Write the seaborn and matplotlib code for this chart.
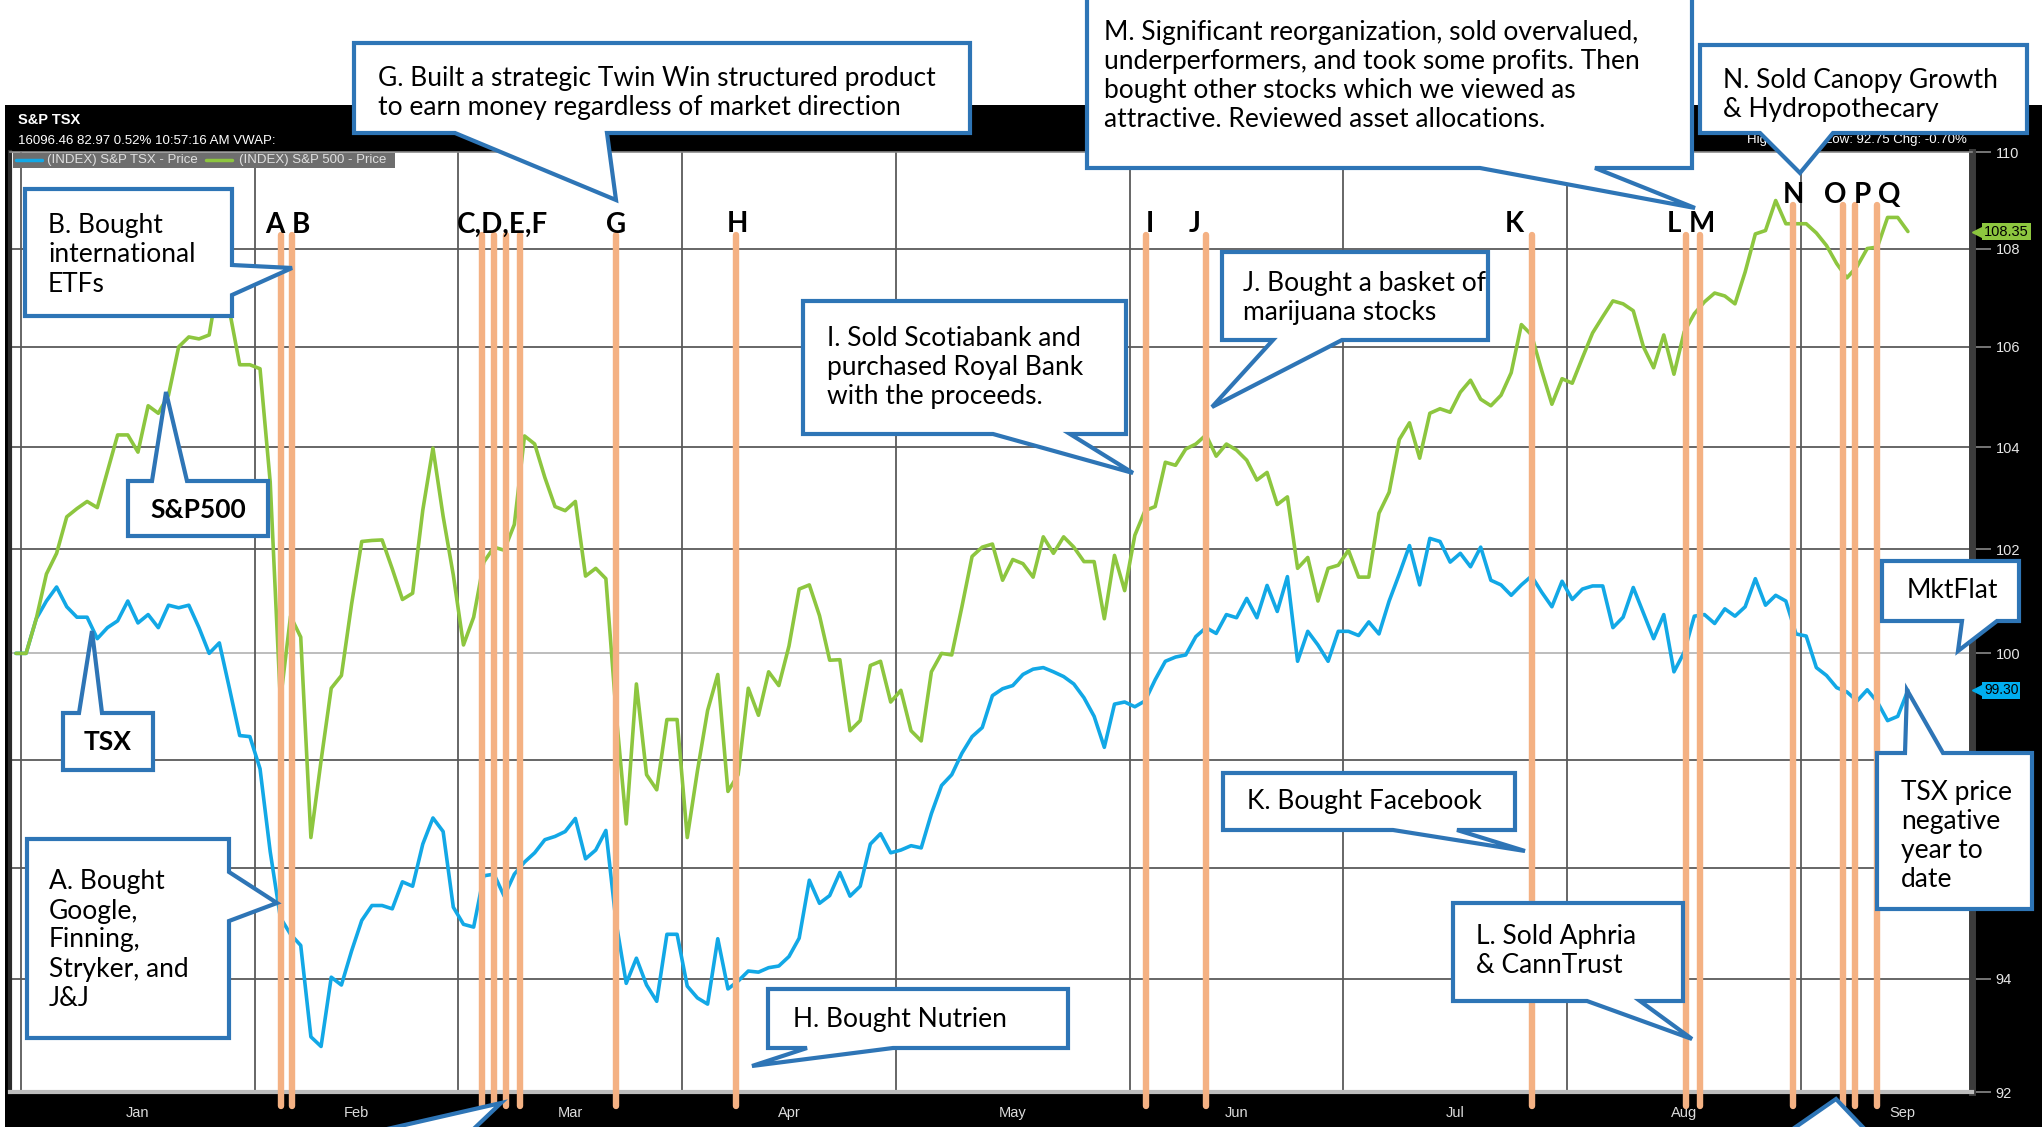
import numpy as np
import pandas as pd
import matplotlib
matplotlib.use('Agg')
import matplotlib.pyplot as plt
import matplotlib.transforms as mtransforms
from matplotlib.patches import Polygon, Rectangle
from matplotlib.ticker import FixedLocator, FixedFormatter, NullLocator
import seaborn as sns

# Normalised prices (Dec 29 2017 = 100), one value per weekday from Dec 29 2017
sp500 = [100.00, 100.00, 100.66, 101.52, 101.92, 102.63, 102.79, 102.93, 102.81, 103.52,
         104.24, 104.24, 103.90, 104.82, 104.67, 105.03, 106.00, 106.20, 106.16, 106.24,
         107.45, 106.73, 105.64, 105.64, 105.56, 103.31, 99.10, 100.71, 100.31, 96.56,
         97.98, 99.34, 99.58, 100.94, 102.15, 102.17, 102.18, 101.62, 101.03, 101.15,
         102.76, 103.98, 102.64, 101.50, 100.16, 100.69, 101.75, 102.04, 101.98, 102.48,
         104.22, 104.06, 103.40, 102.83, 102.75, 102.93, 101.48, 101.63, 101.43, 98.88,
         96.81, 99.42, 97.72, 97.44, 98.75, 98.75, 96.56, 97.79, 98.92, 99.60,
         97.41, 97.72, 99.34, 98.83, 99.65, 99.39, 100.14, 101.23, 101.31, 100.72,
         99.87, 99.88, 98.54, 98.73, 99.77, 99.85, 99.08, 99.30, 98.54, 98.35,
         99.65, 100.00, 99.97, 100.89, 101.86, 102.04, 102.10, 101.40, 101.80, 101.72,
         101.46, 102.24, 101.92, 102.24, 102.04, 101.76, 101.76, 100.66, 101.88, 101.20,
         102.27, 102.75, 102.83, 103.70, 103.64, 103.96, 104.06, 104.24, 103.82, 104.06,
         103.94, 103.74, 103.35, 103.50, 102.87, 103.02, 101.63, 101.84, 101.00, 101.63,
         101.69, 101.98, 101.46, 101.46, 102.70, 103.11, 104.15, 104.48, 103.78, 104.67,
         104.76, 104.69, 105.09, 105.33, 104.95, 104.82, 105.03, 105.48, 106.45, 106.24,
         105.52, 104.85, 105.36, 105.27, 105.78, 106.28, 106.61, 106.93, 106.87, 106.73,
         106.00, 105.58, 106.24, 105.45, 106.30, 106.67, 106.91, 107.09, 107.03, 106.87,
         107.52, 108.30, 108.37, 108.99, 108.51, 108.51, 108.51, 108.32, 108.06, 107.69,
         107.40, 107.63, 108.00, 108.03, 108.64, 108.64, 108.35]
tsx = [100.00, 100.00, 100.66, 101.00, 101.27, 100.89, 100.69, 100.69, 100.28, 100.49,
       100.62, 101.00, 100.58, 100.74, 100.49, 100.92, 100.87, 100.92, 100.49, 100.00,
       100.20, 99.33, 98.45, 98.43, 97.83, 96.30, 95.10, 94.80, 94.60, 92.97,
       92.80, 94.03, 93.89, 94.50, 95.05, 95.32, 95.32, 95.26, 95.75, 95.67,
       96.44, 96.92, 96.67, 95.29, 94.98, 94.93, 95.86, 95.89, 95.49, 95.89,
       96.11, 96.28, 96.52, 96.58, 96.67, 96.91, 96.17, 96.33, 96.69, 95.02,
       93.92, 94.37, 93.89, 93.60, 94.80, 94.80, 93.87, 93.66, 93.55, 94.72,
       93.82, 93.96, 94.14, 94.12, 94.20, 94.23, 94.40, 94.73, 95.78, 95.36,
       95.50, 95.92, 95.49, 95.67, 96.44, 96.63, 96.28, 96.33, 96.41, 96.37,
       97.00, 97.52, 97.72, 98.12, 98.43, 98.60, 99.20, 99.33, 99.39, 99.60,
       99.70, 99.73, 99.65, 99.56, 99.42, 99.16, 98.81, 98.23, 99.04, 99.08,
       98.99, 99.10, 99.50, 99.85, 99.93, 99.97, 100.32, 100.49, 100.38, 100.74,
       100.68, 101.05, 100.68, 101.30, 100.80, 101.47, 99.85, 100.42, 100.16, 99.85,
       100.42, 100.42, 100.34, 100.60, 100.37, 101.00, 101.52, 102.07, 101.31, 102.21,
       102.15, 101.75, 101.92, 101.66, 102.04, 101.40, 101.31, 101.11, 101.31, 101.48,
       101.17, 100.89, 101.38, 101.03, 101.23, 101.29, 101.29, 100.49, 100.69, 101.26,
       100.77, 100.28, 100.74, 99.65, 100.02, 100.71, 100.74, 100.57, 100.85, 100.71,
       100.89, 101.43, 100.92, 101.11, 101.00, 100.37, 100.33, 99.73, 99.58, 99.35,
       99.27, 99.10, 99.31, 99.08, 98.73, 98.81, 99.30]
yticks = [92, 94, 96, 98, 100, 102, 104, 106, 108, 110]
# 96 and 98 sit under the "TSX price negative" box in the original
ytick_labels = ['92', '94', '', '', '100', '102', '104', '106', '108', '110']
month_labels = ['Jan', 'Feb', 'Mar', 'Apr', 'May', 'Jun', 'Jul', 'Aug', 'Sep']
# trade markers, in weekday positions
events = {'A': 26.07, 'B': 27.1, 'C': 45.78, 'D': 47.01, 'E': 48.19, 'F': 49.57,
          'G': 58.96, 'H': 70.8, 'I': 111.12, 'J': 116.97, 'K': 149.03, 'L': 164.17,
          'M': 165.6, 'N': 174.69, 'O': 179.66, 'P': 180.84, 'Q': 183.0}

W, H = 2042, 1127
BLUE, GREEN, ORANGE, EDGE = '#12A8E6', '#8DC63F', '#F4B183', '#2E75B6'

dates = pd.bdate_range('2017-12-29', periods=len(sp500))
all_days = pd.bdate_range('2017-12-29', '2018-10-01')
edges = [i - 0.5 for i in range(1, len(all_days)) if all_days[i].month != all_days[i - 1].month]
mondays = [i for i, d in enumerate(dates) if d.dayofweek == 0]

df = pd.DataFrame({
    'day': np.concatenate([np.arange(len(tsx)), np.arange(len(sp500))]),
    'value': tsx + sp500,
    'series': ['TSX'] * len(tsx) + ['S&P500'] * len(sp500),
})

sns.set_style('white')
plt.rcParams['font.family'] = ['Liberation Sans', 'DejaVu Sans']

fig = plt.figure(figsize=(W / 100, H / 100), dpi=100)
fig.patch.set_facecolor('white')


def fp(x, y):
    return (x / W, 1 - y / H)


fig.add_artist(Rectangle(fp(5, H), (W - 5) / W, (H - 105) / H, transform=fig.transFigure,
                         fc='black', ec='none', zorder=-5))

ax = fig.add_axes([10 / W, (H - 1092) / H, 1962 / W, 940 / H])
ax.set_facecolor('white')

sns.lineplot(data=df, x='day', y='value', hue='series', hue_order=['TSX', 'S&P500'],
             palette={'TSX': BLUE, 'S&P500': GREEN}, linewidth=2.6, legend=False,
             estimator=None, ax=ax, zorder=2)

ax.set_yscale('log')
ax.set_ylim(92, 110)
ax.set_xlim(-0.58, 192.3)
ax.yaxis.set_major_locator(FixedLocator(yticks))
ax.yaxis.set_major_formatter(FixedFormatter(ytick_labels))
ax.yaxis.set_minor_locator(NullLocator())
ax.yaxis.tick_right()
ax.set_xticks(mondays)
ax.set_xticklabels([])
ax.xaxis.set_minor_locator(NullLocator())
ax.tick_params(axis='y', colors='#8a8a8a', labelcolor='#e6e6e6', labelsize=10.5,
               length=14, width=1.2, pad=3)
ax.tick_params(axis='x', colors='#777777', length=6, width=1)
ax.set_xlabel('')
ax.set_ylabel('')
ax.grid(False)

for v in yticks[1:-1]:
    ax.axhline(v, color='#b8b8b8' if v == 100 else '#5a5a5a', lw=1.3, zorder=0.5)
for e in edges[:-1]:
    ax.axvline(e, color='#5a5a5a', lw=1.3, zorder=0.5)

blend = mtransforms.blended_transform_factory(ax.transData, ax.transAxes)
for i, name in enumerate(month_labels):
    ax.text((edges[i] + edges[i + 1]) / 2, -0.022, name, transform=blend, ha='center',
            va='center', color='#dcdcdc', fontsize=10.5)

for sp in ['left', 'right', 'top', 'bottom']:
    ax.spines[sp].set_visible(True)
ax.spines['right'].set_color('#3c3c3c')
ax.spines['right'].set_linewidth(5)
ax.spines['left'].set_color('#2c2c2c')
ax.spines['left'].set_linewidth(3)
ax.spines['bottom'].set_color('#bdbdbd')
ax.spines['bottom'].set_linewidth(3)
ax.spines['top'].set_color('#8a8a8a')
ax.spines['top'].set_linewidth(1.2)

# trade marker lines
for k, pos in events.items():
    top = 0.944 if k in 'NOPQ' else 0.912
    ax.axvline(pos, ymin=-0.015, ymax=top, color=ORANGE, lw=4.6, clip_on=False, zorder=3)

# last value tags
vblend = mtransforms.blended_transform_factory(ax.transAxes, ax.transData)
for val, col, fs in [(sp500[-1], GREEN, 10.5), (tsx[-1], '#00AEEF', 10)]:
    ax.plot([1.0037], [val], marker='<', ms=10, color=col, transform=vblend, clip_on=False, zorder=6)
    ax.text(1.0062, val, f'{val:.2f}', transform=vblend, ha='left', va='center', fontsize=fs,
            color='black', zorder=7,
            bbox=dict(boxstyle='square,pad=0.12', fc=col, ec='none'))

# header and legend strip
fig.text(*fp(18, 120), 'S&P TSX', color='white', fontsize=10.5, weight='bold', va='center')
fig.text(*fp(18, 141), '16096.46 82.97 0.52% 10:57:16 AM VWAP:', color='white', fontsize=9.5,
         va='center')
fig.text(*fp(1967, 140), 'High: 110.03 Low: 92.75 Chg: -0.70%', color='white', fontsize=9.5,
         va='center', ha='right')
fig.add_artist(Rectangle(fp(13, 168), 382 / W, 15 / H, transform=fig.transFigure,
                         fc='#6e6e6e', ec='none', zorder=4))
fig.add_artist(plt.Line2D([16 / W, 42 / W], [1 - 160 / H] * 2, color=BLUE, lw=2.5, zorder=5))
fig.add_artist(plt.Line2D([206 / W, 232 / W], [1 - 160 / H] * 2, color=GREEN, lw=2.5, zorder=5))
fig.text(*fp(47, 160), '(INDEX) S&P TSX - Price', color='#e0e0e0', fontsize=9.5, va='center', zorder=5)
fig.text(*fp(239, 160), '(INDEX) S&P 500 - Price', color='#e0e0e0', fontsize=9.5, va='center', zorder=5)

# event letters
letters = [('A', 275, 225), ('B', 301, 225), ('C,D,E,F', 502, 225), ('G', 616, 225),
           ('H', 737, 224), ('I', 1150, 224), ('J', 1195, 224), ('K', 1514, 224),
           ('L', 1674, 224), ('M', 1702, 224), ('N', 1793, 195), ('O', 1835, 195),
           ('P', 1862, 195), ('Q', 1889, 195)]
for s, x, y in letters:
    fig.text(*fp(x, y), s, family=['Lato', 'DejaVu Sans'], weight='bold', fontsize=20,
             ha='center', va='center', color='black', zorder=8)


def callout(box, side, base, tip):
    x0, y0, x1, y1 = box
    a, b = base
    if side == 'bottom':
        pts = [(x0, y0), (x1, y0), (x1, y1), (b, y1), tip, (a, y1), (x0, y1)]
    elif side == 'top':
        pts = [(x0, y0), (a, y0), tip, (b, y0), (x1, y0), (x1, y1), (x0, y1)]
    else:
        pts = [(x0, y0), (x1, y0), (x1, a), tip, (x1, b), (x1, y1), (x0, y1)]
    fig.add_artist(Polygon([fp(x, y) for x, y in pts], closed=True, transform=fig.transFigure,
                           fc='white', ec=EDGE, lw=3, joinstyle='miter', zorder=10))


notes = [
    ((354, 43, 970, 133), 'bottom', (455, 607), (616, 200),
     'G. Built a strategic Twin Win structured product\nto earn money regardless of market direction', 378, 93, 'left', 'normal'),
    ((1087, -10, 1692, 168), 'bottom', (1480, 1595), (1695, 208),
     'M. Significant reorganization, sold overvalued,\nunderperformers, and took some profits. Then\n'
     'bought other stocks which we viewed as\nattractive. Reviewed asset allocations.', 1104, 76, 'left', 'normal'),
    ((1700, 45, 2027, 133), 'bottom', (1760, 1833), (1800, 173),
     'N. Sold Canopy Growth\n& Hydropothecary', 1723, 95, 'left', 'normal'),
    ((25, 189, 232, 316), 'right', (265, 295), (292, 268),
     'B. Bought\ninternational\nETFs', 48, 255, 'left', 'normal'),
    ((128, 481, 268, 536), 'top', (152, 187), (166, 392), 'S&P500', 198, 510, 'center', 'bold'),
    ((63, 713, 153, 770), 'top', (79, 102), (92, 631), 'TSX', 108, 742, 'center', 'bold'),
    ((27, 839, 229, 1038), 'right', (872, 921), (277, 903),
     'A. Bought\nGoogle,\nFinning,\nStryker, and\nJ&J', 49, 940, 'left', 'normal'),
    ((768, 989, 1068, 1048), 'bottom', (807, 893), (752, 1066), 'H. Bought Nutrien', 793, 1019, 'left', 'normal'),
    ((803, 301, 1126, 434), 'bottom', (993, 1070), (1133, 473),
     'I. Sold Scotiabank and\npurchased Royal Bank\nwith the proceeds.', 827, 368, 'left', 'normal'),
    ((1222, 252, 1488, 340), 'bottom', (1273, 1342), (1212, 407),
     'J. Bought a basket of\nmarijuana stocks', 1243, 298, 'left', 'normal'),
    ((1223, 773, 1515, 830), 'bottom', (1393, 1457), (1525, 851), 'K. Bought Facebook', 1247, 802, 'left', 'normal'),
    ((1453, 903, 1683, 1001), 'bottom', (1587, 1640), (1692, 1039),
     'L. Sold Aphria\n& CannTrust', 1476, 951, 'left', 'normal'),
    ((1882, 561, 2019, 621), 'bottom', (1962, 1997), (1958, 651), 'MktFlat', 1952, 590, 'center', 'normal'),
    ((1877, 753, 2032, 909), 'top', (1905, 1943), (1907, 690),
     'TSX price\nnegative\nyear to\ndate', 1901, 836, 'left', 'normal'),
]
for box, side, base, tip, txt, tx, ty, ha, wt in notes:
    callout(box, side, base, tip)
    fig.text(*fp(tx, ty), txt, family=['Lato', 'DejaVu Sans'], fontsize=19, weight=wt,
             ha=ha, va='center', linespacing=1.2, color='black', zorder=11)

# tails of boxes that sit below the picture
callout((339, 1140, 462, 1160), 'top', (339, 462), (501, 1103))
callout((1777, 1140, 1875, 1160), 'top', (1777, 1875), (1836, 1099))

fig.savefig('out.png', dpi=100, facecolor=fig.get_facecolor())
